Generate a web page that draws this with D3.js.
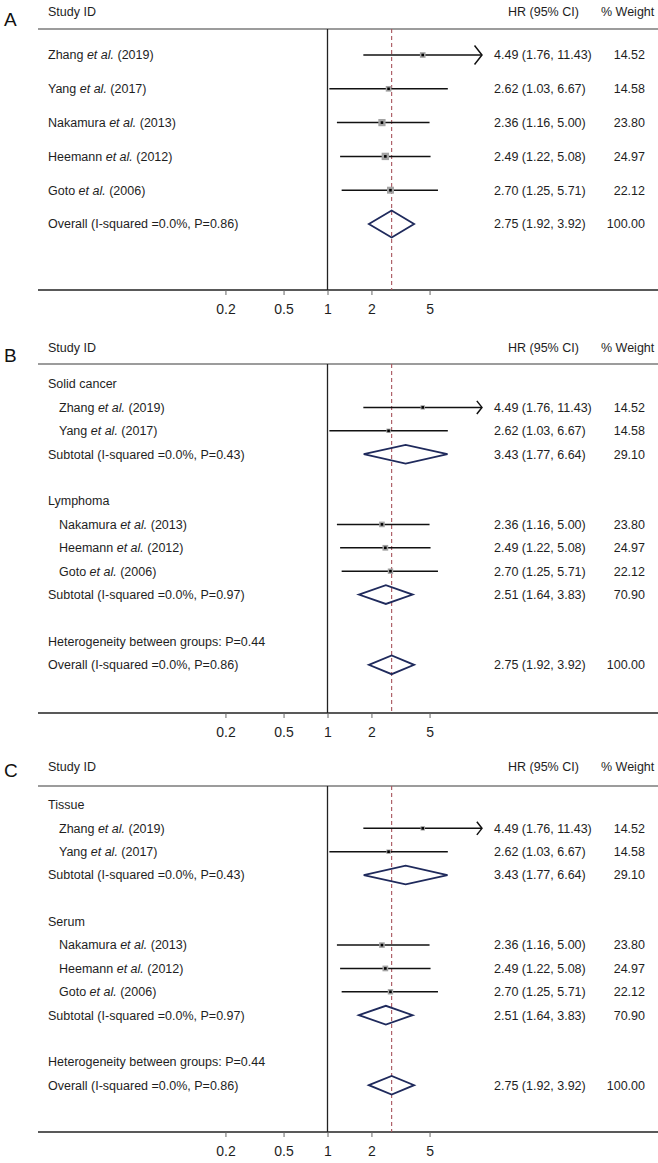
<!DOCTYPE html>
<html>
<head>
<meta charset="utf-8">
<script src="https://cdn.jsdelivr.net/npm/d3@7"></script>
<style>
  body { margin: 0; background: #fff; }
  text { font-family: "Liberation Sans", Arial, Helvetica, sans-serif; fill: #1e1e1e; }
</style>
</head>
<body>
<svg width="658" height="1163"></svg>
<script>
// study level data
const authors = ['Zhang', 'Yang', 'Nakamura', 'Heemann', 'Goto'];
const years = [2019, 2017, 2013, 2012, 2006];
const hr = [4.49, 2.62, 2.36, 2.49, 2.70];
const ciLow = [1.76, 1.03, 1.16, 1.22, 1.25];
const ciHigh = [11.43, 6.67, 5.00, 5.08, 5.71];
const weights = [14.52, 14.58, 23.80, 24.97, 22.12];

// subgroups
const groupMembers = [[0, 1], [2, 3, 4]];
const groupsB = ['Solid cancer', 'Lymphoma'];
const groupsC = ['Tissue', 'Serum'];
const subHr = [3.43, 2.51];
const subLow = [1.77, 1.64];
const subHigh = [6.64, 3.83];
const subWeight = [29.10, 70.90];
const subP = ['0.43', '0.97'];

// pooled
const overallHr = 2.75;
const overallCi = [1.92, 3.92];
const overallWeight = 100.00;
const overallP = '0.86';
const hetP = '0.44';

const tickValues = [0.2, 0.5, 1, 2, 5];

const svg = d3.select('svg');
const x = d3.scaleLog().domain([0.01, 100]).range([35.5, 619.5]);
const f2 = d3.format('.2f');
const lineLeft = 38, lineRight = 658;
const arrowFrom = 10;   // CIs past the last tick get an arrow

function studyRow(i, indent) {
  return { type: 'study', author: authors[i], year: years[i], est: hr[i], lo: ciLow[i], hi: ciHigh[i], w: weights[i], indent };
}

function rowsPlain() {
  const rows = authors.map((a, i) => studyRow(i, false));
  rows.push({ type: 'pooled', label: `Overall (I-squared =0.0%, P=${overallP})`, est: overallHr, lo: overallCi[0], hi: overallCi[1], w: overallWeight });
  return rows;
}

function rowsGrouped(groups) {
  const rows = [];
  groups.forEach((g, k) => {
    rows.push({ type: 'text', label: g });
    groupMembers[k].forEach(i => rows.push(studyRow(i, true)));
    rows.push({ type: 'pooled', label: `Subtotal (I-squared =0.0%, P=${subP[k]})`, est: subHr[k], lo: subLow[k], hi: subHigh[k], w: subWeight[k] });
    rows.push({ type: 'blank' });
  });
  rows.push({ type: 'text', label: `Heterogeneity between groups: P=${hetP}` });
  rows.push({ type: 'pooled', label: `Overall (I-squared =0.0%, P=${overallP})`, est: overallHr, lo: overallCi[0], hi: overallCi[1], w: overallWeight });
  return rows;
}

const panels = [
  { letter: 'A', letterY: 19, headY: 12, topY: 29, firstY: 55, rowH: 33.8, axisY: 290, rows: rowsPlain() },
  { letter: 'B', letterY: 355, headY: 348, topY: 364, firstY: 384, rowH: 23.4, axisY: 713, rows: rowsGrouped(groupsB) },
  { letter: 'C', letterY: 770, headY: 767, topY: 786, firstY: 805, rowH: 23.35, axisY: 1132, rows: rowsGrouped(groupsC) }
];

panels.forEach(p => {
  const g = svg.append('g');

  g.append('text').attr('x', 4).attr('y', p.letterY).attr('dy', '0.36em')
    .style('font-size', '19px').style('fill', '#111').text(p.letter);

  const head = g.append('g').style('font-size', '12.5px');
  head.append('text').attr('x', 48).attr('y', p.headY).attr('dy', '0.35em').text('Study ID');
  head.append('text').attr('x', 508).attr('y', p.headY).attr('dy', '0.35em').text('HR (95% CI)');
  head.append('text').attr('x', 601).attr('y', p.headY).attr('dy', '0.35em').text('% Weight');

  g.append('line').attr('x1', lineLeft).attr('x2', lineRight).attr('y1', p.topY).attr('y2', p.topY)
    .attr('stroke', '#3a3a3a').attr('stroke-width', 1.2);
  g.append('line').attr('x1', lineLeft).attr('x2', lineRight).attr('y1', p.axisY).attr('y2', p.axisY)
    .attr('stroke', '#222').attr('stroke-width', 1.3);

  // null line
  g.append('line').attr('x1', x(1)).attr('x2', x(1)).attr('y1', p.topY).attr('y2', p.axisY)
    .attr('stroke', '#222').attr('stroke-width', 1.3);
  // overall estimate line
  g.append('line').attr('x1', x(overallHr)).attr('x2', x(overallHr)).attr('y1', p.topY).attr('y2', p.axisY)
    .attr('stroke', '#a8545c').attr('stroke-width', 1.1).attr('stroke-dasharray', '4,3');

  const axis = d3.axisBottom(x).tickValues(tickValues).tickFormat(d => d).tickSize(5).tickPadding(9);
  const ax = g.append('g').attr('transform', `translate(0,${p.axisY})`).call(axis);
  ax.select('.domain').remove();
  ax.selectAll('.tick line').attr('stroke', '#666');
  ax.selectAll('.tick text').style('font-size', '14px').style('font-family', '"Liberation Sans", Arial, sans-serif').attr('fill', '#1e1e1e');

  const boxSize = d3.scaleSqrt().domain([0, 25]).range([0, 2 + p.rowH * 0.16]);

  p.rows.forEach((r, i) => {
    const y = p.firstY + i * p.rowH;
    if (r.type === 'blank') return;
    const t = g.append('g').style('font-size', '12.5px');

    if (r.type === 'text') {
      t.append('text').attr('x', 48).attr('y', y).attr('dy', '0.35em').text(r.label);
      return;
    }

    if (r.type === 'study') {
      const lab = t.append('text').attr('x', r.indent ? 59 : 48).attr('y', y).attr('dy', '0.35em');
      lab.append('tspan').text(r.author + ' ');
      lab.append('tspan').style('font-style', 'italic').text('et al.');
      lab.append('tspan').text(` (${r.year})`);

      const arrow = r.hi > arrowFrom;
      g.append('line').attr('x1', x(r.lo)).attr('x2', x(r.hi)).attr('y1', y).attr('y2', y)
        .attr('stroke', '#111').attr('stroke-width', 1.5);
      if (arrow) {
        const h = p.rowH * 0.28, d = p.rowH * 0.22;
        g.append('path')
          .attr('d', `M${x(r.hi) - d},${y - h}L${x(r.hi)},${y}L${x(r.hi) - d},${y + h}`)
          .attr('fill', 'none').attr('stroke', '#111').attr('stroke-width', 1.5);
      }
      const s = boxSize(r.w);
      g.append('rect').attr('x', x(r.est) - s / 2).attr('y', y - s / 2).attr('width', s).attr('height', s)
        .attr('fill', '#a3a3a3');
      g.append('rect').attr('x', x(r.est) - 1.3).attr('y', y - 1.3).attr('width', 2.6).attr('height', 2.6)
        .attr('fill', '#000');
    } else {
      t.append('text').attr('x', 48).attr('y', y).attr('dy', '0.35em').text(r.label);
      const h = p.rowH * 0.4;
      g.append('path')
        .attr('d', `M${x(r.lo)},${y}L${x(r.est)},${y - h}L${x(r.hi)},${y}L${x(r.est)},${y + h}Z`)
        .attr('fill', 'none').attr('stroke', '#1f2a5c').attr('stroke-width', 1.8);
    }

    t.append('text').attr('x', 494).attr('y', y).attr('dy', '0.35em')
      .text(`${f2(r.est)} (${f2(r.lo)}, ${f2(r.hi)})`);
    t.append('text').attr('x', 645).attr('y', y).attr('dy', '0.35em').attr('text-anchor', 'end')
      .text(f2(r.w));
  });
});
</script>
</body>
</html>
